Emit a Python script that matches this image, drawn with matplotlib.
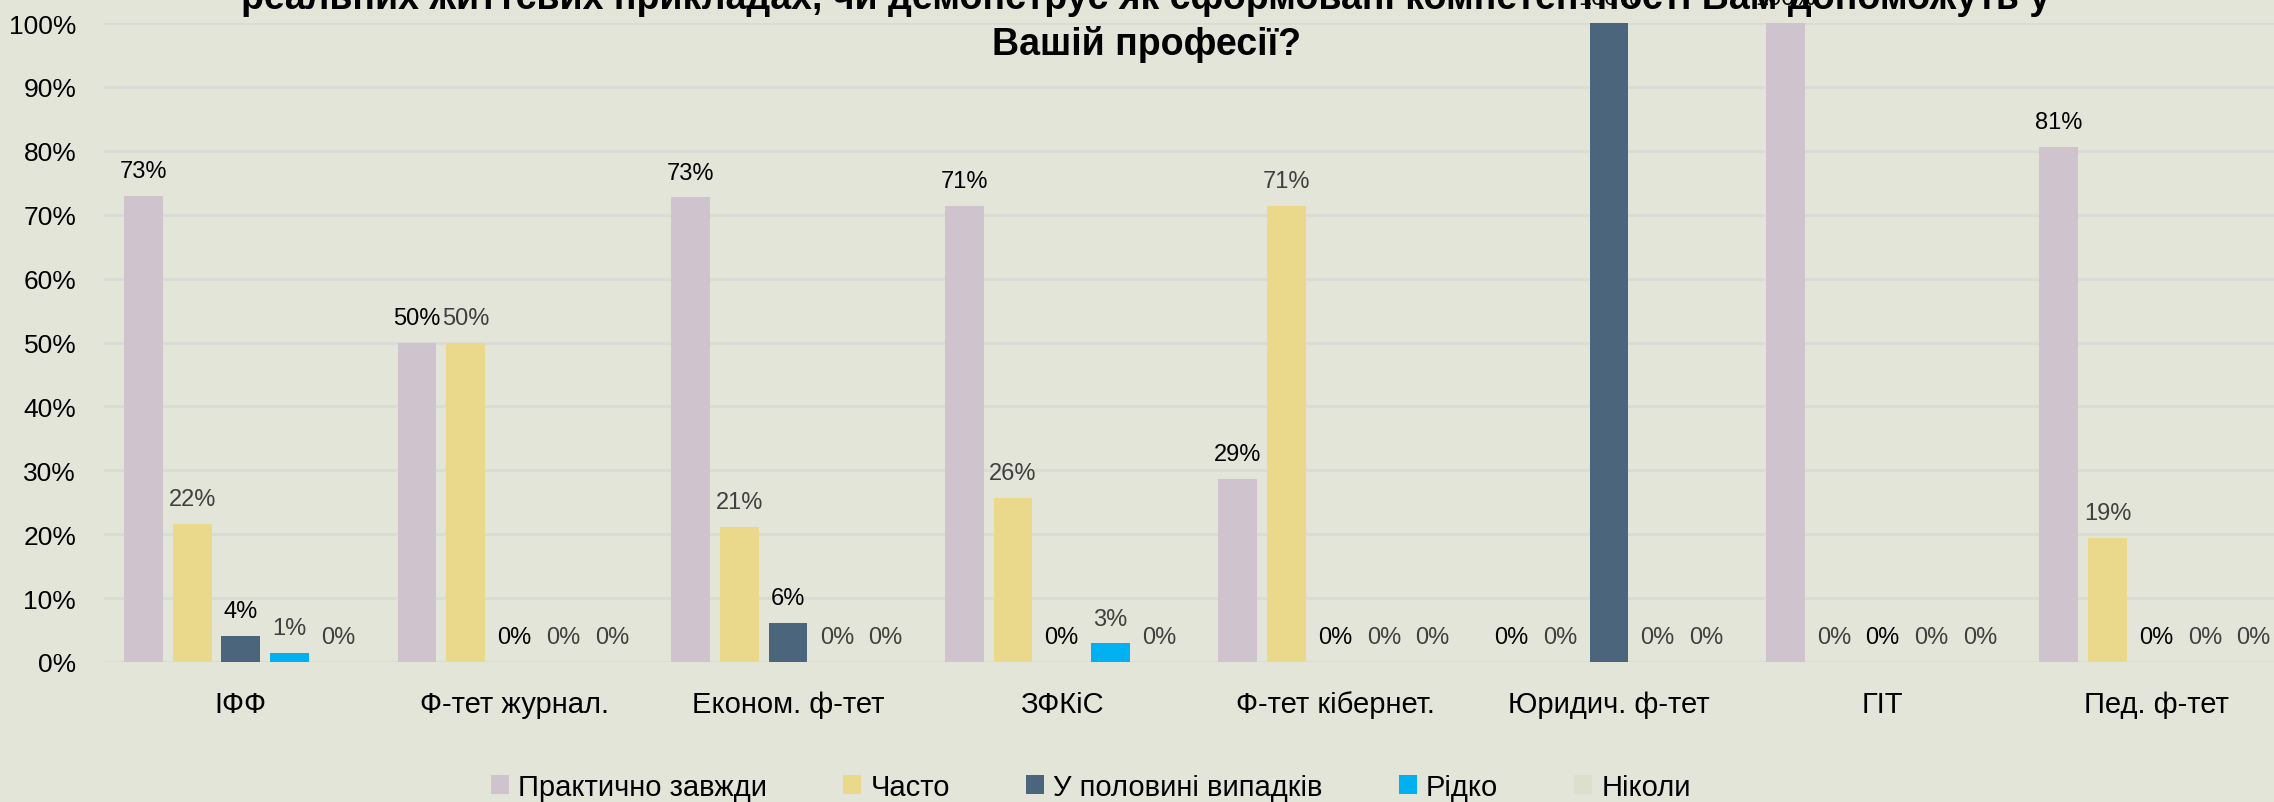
import numpy as np
import matplotlib.pyplot as plt
from matplotlib.ticker import MultipleLocator, PercentFormatter

plt.rcParams['font.family'] = ['Liberation Sans', 'DejaVu Sans']

faculties = ['ІФФ', 'Ф-тет журнал.', 'Економ. ф-тет', 'ЗФКіС', 'Ф-тет кібернет.',
             'Юридич. ф-тет', 'ГІТ', 'Пед. ф-тет']
answers = ['Практично завжди', 'Часто', 'У половині випадків', 'Рідко', 'Ніколи']

almost_always = [0.729, 0.50, 0.727, 0.714, 0.286, 0.0, 1.0, 0.806]
often = [0.216, 0.50, 0.212, 0.257, 0.714, 0.0, 0.0, 0.194]
half_cases = [0.041, 0.0, 0.061, 0.0, 0.0, 1.0, 0.0, 0.0]
rarely = [0.014, 0.0, 0.0, 0.029, 0.0, 0.0, 0.0, 0.0]
never = [0.0, 0.0, 0.0, 0.0, 0.0, 0.0, 0.0, 0.0]

title = ('реальних життєвих прикладах, чи демонструє як сформовані компетентності Вам допоможуть у\n'
         'Вашій професії?')

bg = '#E3E5D9'
colors = ['#CFC3CD', '#EAD98A', '#4A657C', '#00B0F0', '#DCDFCC']
label_colors = ['black', '#404040', 'black', '#404040', '#404040']

W, H = 2274, 803
fig = plt.figure(figsize=(W / 100, H / 100), dpi=100, facecolor=bg)
ax = fig.add_axes([104 / W, 1 - 663 / H, 2189 / W, 639 / H])
ax.set_facecolor(bg)

x = np.arange(len(faculties))
slot = 0.178
width = 0.142
series = [almost_always, often, half_cases, rarely, never]
for j, vals in enumerate(series):
    bars = ax.bar(x + (j - 2) * slot, vals, width, color=colors[j], label=answers[j], zorder=2)
    ax.bar_label(bars, labels=[f'{v * 100:.0f}%' for v in vals], padding=10,
                 color=label_colors[j], fontsize=17, clip_on=False)

ax.set_xlim(-0.5, len(faculties) - 0.5)
ax.set_ylim(0, 1)
ax.yaxis.set_major_locator(MultipleLocator(0.1))
ax.yaxis.set_major_formatter(PercentFormatter(1, decimals=0))
ax.set_xticks(x)
ax.set_xticklabels(faculties, fontsize=21)
ax.tick_params(axis='x', length=0, pad=20)
ax.tick_params(axis='y', length=0, pad=20, labelsize=19)
ax.grid(axis='y', color='#D9DBD5', lw=2)
ax.set_axisbelow(True)
for s in ax.spines.values():
    s.set_visible(False)

fig.legend(loc='center', bbox_to_anchor=(1091 / W, 1 - 788 / H), ncol=5, frameon=False,
           fontsize=21, handlelength=0.62, handleheight=0.62, handletextpad=0.32,
           columnspacing=2.6)

fig.text(1146 / W, 1 - 55 / H, title, ha='center', va='baseline', fontsize=27,
         fontweight='bold', linespacing=1.3)

fig.savefig('out.png', dpi=100, facecolor=bg)
